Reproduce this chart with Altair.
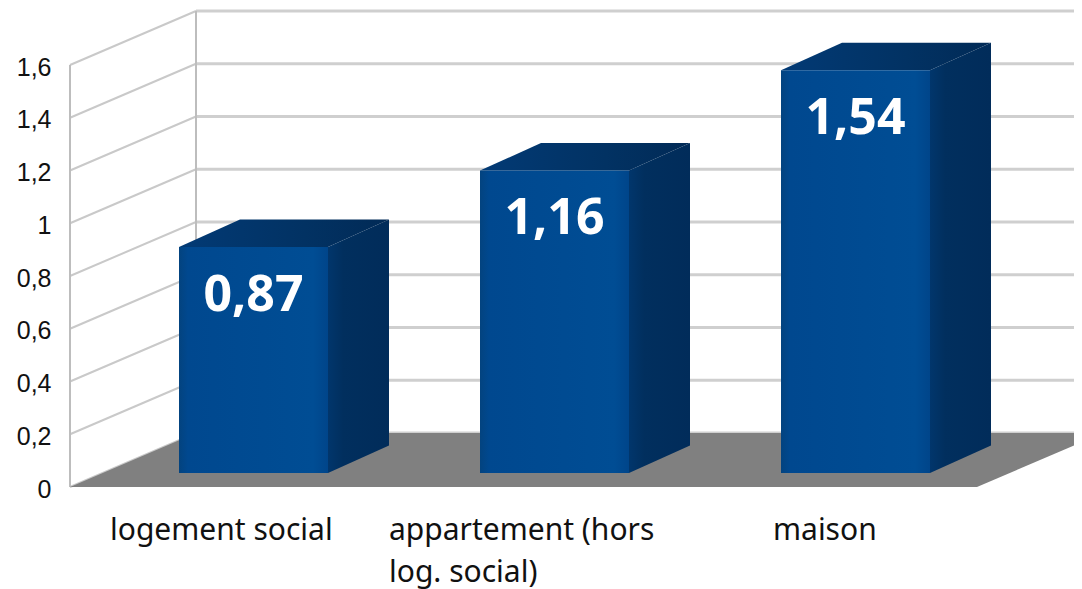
import altair as alt
import pandas as pd

# ---- values
categories = ["logement social", "appartement (hors\nlog. social)", "maison"]
values = [0.87, 1.16, 1.54]
value_labels = ["0,87", "1,16", "1,54"]
y_ticks = [0, 0.2, 0.4, 0.6, 0.8, 1, 1.2, 1.4, 1.6]

# ---- geometry of the oblique projection (x in px from the left wall, y in value units)
X_MAX = 1004
Y_MAX = 479 / 263.75
WALL_DX = 126
WALL_DY = 0.2047
FLOOR_W = 907
BAR_LEFT = [109, 410, 711]
BAR_W = 149
BAR_DX = 61
BAR_DY = 0.104
BAR_BASE = 0.053
BAR_TOP_SHIFT = 0.040
LABEL_LEFT = [40, 319, 703]
LABEL_DROP = 0.184

GRID = "#c9c9c9"
FLOOR = "#808080"


def grad(*stops):
    return alt.LinearGradient(
        gradient="linear", x1=0, x2=1, y1=0, y2=0,
        stops=[alt.GradientStop(offset=o, color=c) for o, c in stops],
    )


FRONT = grad((0, "#03437f"), (0.06, "#00488f"), (0.9, "#004d94"), (1, "#00458a"))
SIDE = grad((0, "#01366c"), (0.25, "#012f5e"), (1, "#012c5a"))
TOP = grad((0, "#023a75"), (0.6, "#023263"), (1, "#012a56"))

x_scale = alt.Scale(domain=[0, X_MAX], nice=False, zero=False)
y_scale = alt.Scale(domain=[0, Y_MAX], nice=False, zero=False)
y_axis = alt.Axis(
    values=y_ticks, title=None, domain=False, ticks=False, grid=False,
    labelExpr="replace('' + datum.value, '.', ',')",
    labelFont="Liberation Sans", labelFontSize=25, labelColor="#111111",
    labelPadding=19, labelOffset=2,
)


def X(f="x"):
    return alt.X(f"{f}:Q", scale=x_scale, axis=None)


def Y(f="y"):
    return alt.Y(f"{f}:Q", scale=y_scale, stack=False, axis=y_axis)


# ---- walls
back_grid = pd.DataFrame({"x": WALL_DX, "x2": X_MAX, "y": [t + WALL_DY for t in y_ticks]})
l_back = alt.Chart(back_grid).mark_rule(color="#cfcfcf", strokeWidth=3).encode(
    x=X(), x2="x2:Q", y=Y()
)

diag = pd.DataFrame(
    [{"t": t, "x": 0, "y": t} for t in y_ticks]
    + [{"t": t, "x": WALL_DX, "y": t + WALL_DY} for t in y_ticks]
)
l_diag = alt.Chart(diag).mark_line(color=GRID, strokeWidth=2).encode(
    x=X(), y=Y(), detail="t:N"
)

verts = pd.DataFrame(
    {"x": [0, WALL_DX], "y": [0, WALL_DY], "y2": [max(y_ticks), max(y_ticks) + WALL_DY]}
)
l_vert = alt.Chart(verts).mark_rule(color="#bdbdbd", strokeWidth=2).encode(
    x=X(), y=Y(), y2="y2:Q",
)

# ---- floor
floor = pd.DataFrame(
    {"y": [0, WALL_DY], "x": [0, WALL_DX], "x2": [FLOOR_W, FLOOR_W + WALL_DX]}
)
l_floor = alt.Chart(floor).mark_area(orient="horizontal", color=FLOOR, clip=True).encode(
    y=Y(), x=X(), x2="x2:Q"
)

# ---- bars
front, side, top = [], [], []
for i, v in enumerate(values):
    left, right = BAR_LEFT[i], BAR_LEFT[i] + BAR_W
    h = v + BAR_TOP_SHIFT
    front.append({"bar": i, "x": left, "x2": right, "y": BAR_BASE, "y2": h})
    side.append({"bar": i, "x": right, "y": BAR_BASE, "y2": h})
    side.append({"bar": i, "x": right + BAR_DX, "y": BAR_BASE + BAR_DY, "y2": h + BAR_DY})
    top.append({"bar": i, "y": h, "x": left, "x2": right})
    top.append({"bar": i, "y": h + BAR_DY, "x": left + BAR_DX, "x2": right + BAR_DX})

l_side = alt.Chart(pd.DataFrame(side)).mark_area(orient="vertical", color=SIDE).encode(
    x=X(), y=Y(), y2="y2:Q", detail="bar:N"
)
l_top = alt.Chart(pd.DataFrame(top)).mark_area(orient="horizontal", color=TOP).encode(
    y=Y(), x=X(), x2="x2:Q", detail="bar:N"
)
l_front = alt.Chart(pd.DataFrame(front)).mark_rect(color=FRONT).encode(
    x=X(), x2="x2:Q", y=Y(), y2="y2:Q"
)

# ---- texts
val_df = pd.DataFrame(
    {
        "x": [l + BAR_W / 2 for l in BAR_LEFT],
        "y": [v + BAR_TOP_SHIFT - LABEL_DROP for v in values],
        "label": value_labels,
    }
)
l_vals = alt.Chart(val_df).mark_text(
    font="Noto Sans", fontWeight="bold", fontSize=50, color="white",
    align="center", baseline="middle",
).encode(x=X(), y=Y(), text="label:N")

cat_df = pd.DataFrame(
    {"x": LABEL_LEFT, "label": categories}
)
l_cats = alt.Chart(cat_df).mark_text(
    font="Noto Sans", fontSize=30, color="#111111", align="left", baseline="alphabetic",
    lineBreak="\n", lineHeight=42,
).encode(x=X(), y=alt.value(532), text="label:N")

chart = (
    alt.layer(l_back, l_diag, l_vert, l_floor, l_side, l_top, l_front, l_vals, l_cats)
    .properties(
        width=X_MAX,
        height=479,
        autosize="none",
        padding={"left": 62, "top": 0, "right": 0, "bottom": 102},
        background="white",
    )
    .configure_view(stroke=None)
)

chart.save("out.html", embed_options={"renderer": "svg", "actions": False})
